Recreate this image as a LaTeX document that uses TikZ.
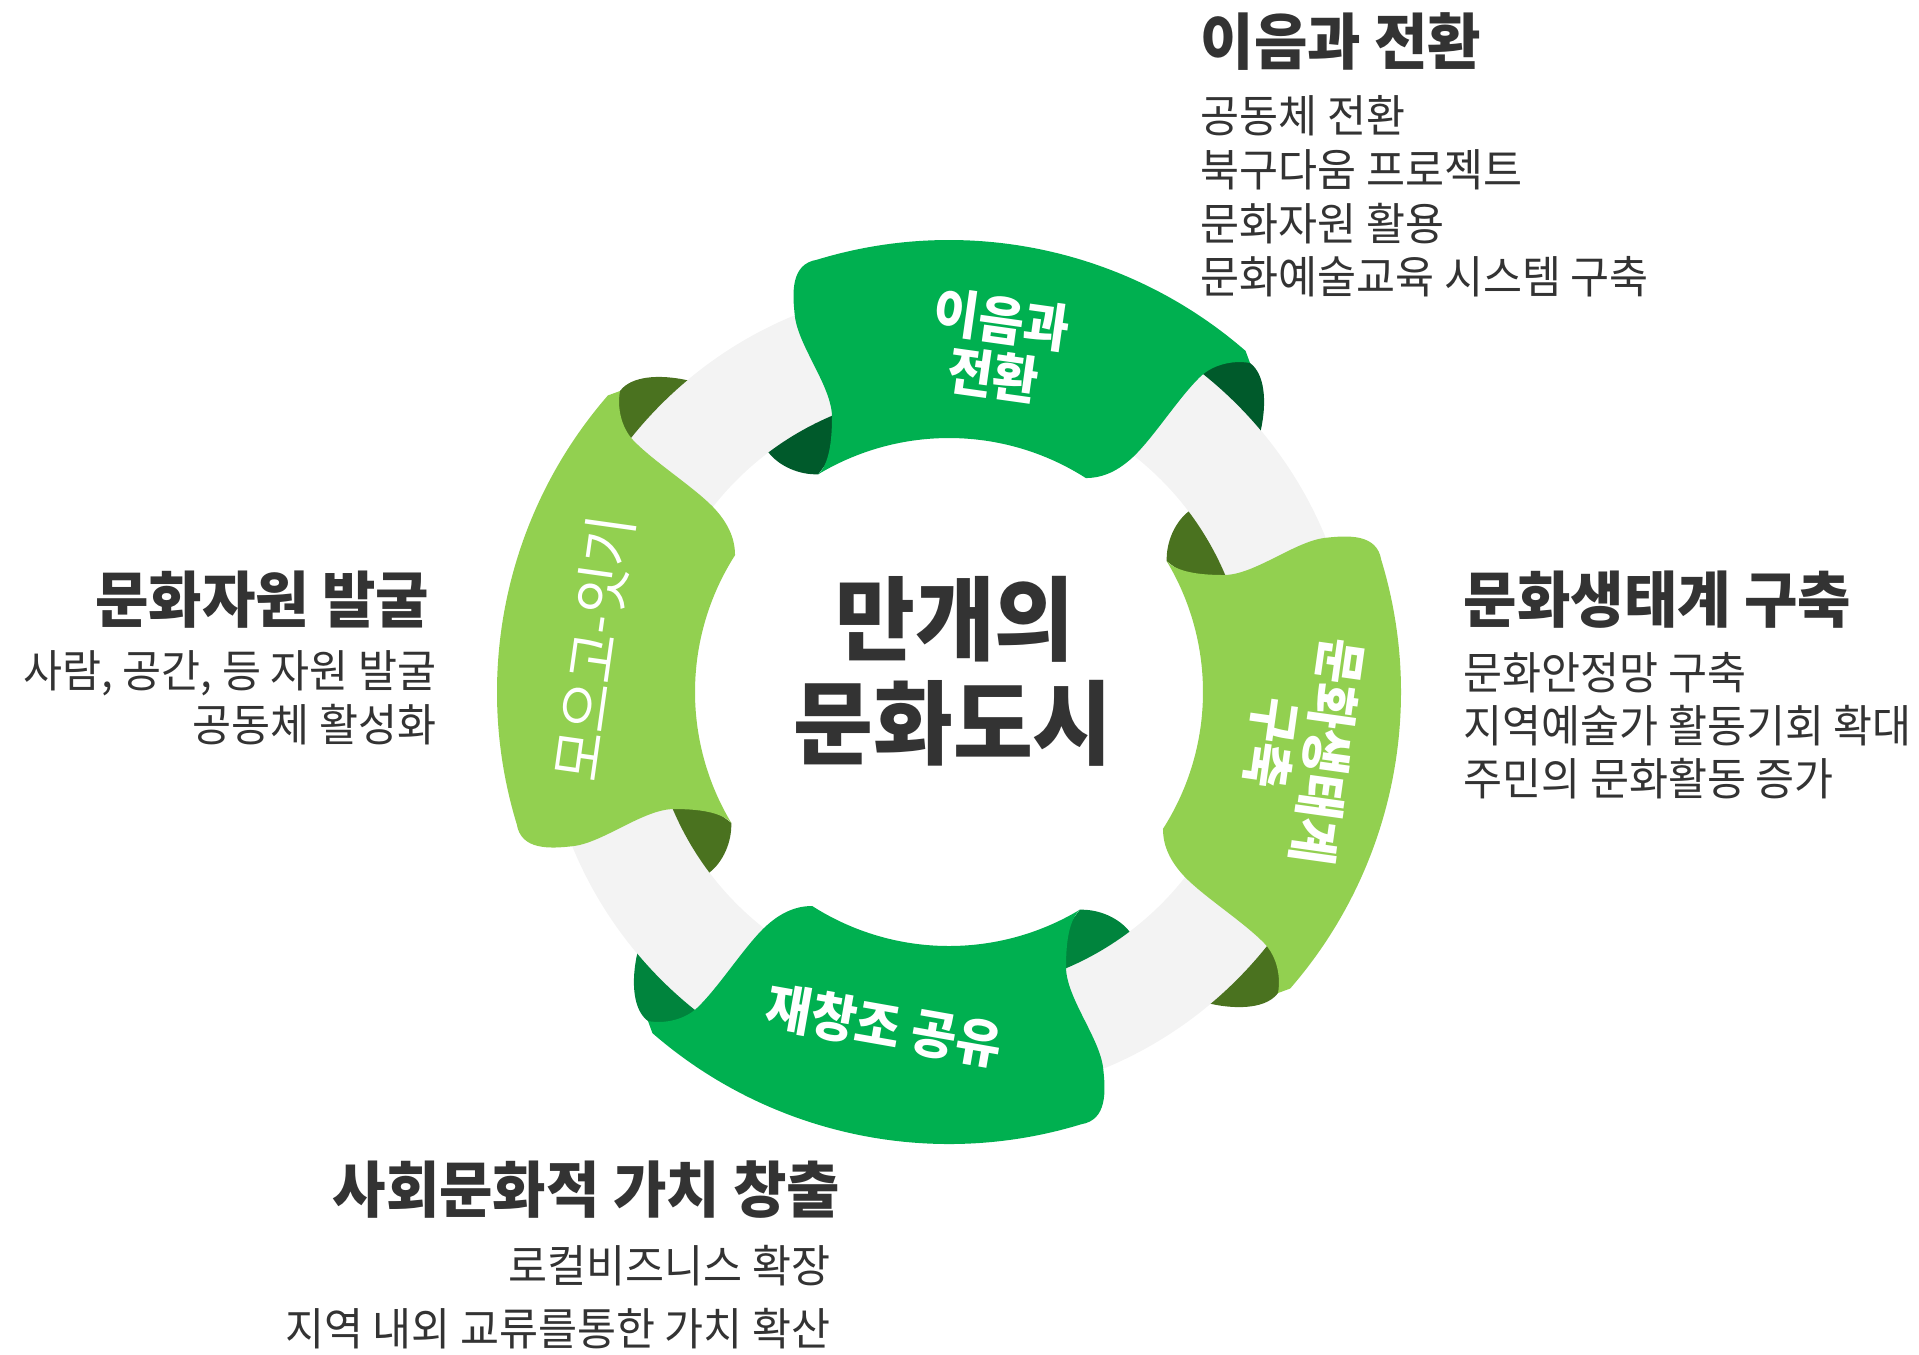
\documentclass[tikz,border=0pt]{standalone}
\usepackage{fontspec}
\setmainfont{Noto Sans CJK KR}[FakeStretch=0.95]
\definecolor{ringgray}{HTML}{F3F3F3}
\definecolor{midgreen}{HTML}{00B050}
\definecolor{leafgreen}{HTML}{92D050}
\definecolor{darkfold}{HTML}{005A2B}
\definecolor{midfold}{HTML}{00843D}
\definecolor{olivefold}{HTML}{4A721F}
\definecolor{inkgray}{HTML}{333333}
\tikzset{
  headtxt/.style={inner sep=0pt, text=inkgray, font=\fontsize{17.4pt}{20pt}\selectfont\bfseries},
  bodytxt/.style={inner sep=0pt, text=inkgray, font=\fontsize{12.7pt}{15pt}\selectfont},
  bandtxt/.style={inner sep=0pt, text=white, align=center, font=\fontsize{14.8pt}{16pt}\selectfont\bfseries},
  citytxt/.style={inner sep=0pt, text=inkgray, font=\fontsize{26pt}{30pt}\selectfont\bfseries}
}

\begin{document}
\begin{tikzpicture}[x=0.1mm, y=0.1mm]
  \useasboundingbox (-949,-662) rectangle (970,692);
  \fill[ringgray, even odd rule] (0,0) circle[radius=407] (0,0) circle[radius=300];

  % four ribbons, each a quarter turn of the top one
  \foreach \turn/\band/\fold in {0/midgreen/darkfold, -90/leafgreen/olivefold, -180/midgreen/midfold, -270/leafgreen/olivefold}{
    \begin{scope}[rotate=\turn]
      \fill[\fold] (110:300) arc[start angle=110, end angle=127, radius=300]
        .. controls (-170,226) and (-150,217) .. (121:254) -- (112:275) -- cycle;
      \fill[\fold] (55:407) arc[start angle=55, end angle=40, radius=407]
        .. controls (318,290) and (316,318) .. (301,329) -- (55:440) -- cycle;
      \fill[\band] (121:254) .. controls (-120,228) and (-117,250) .. (-117,275)
        .. controls (-117,305) and (-150,345) .. (-154,375)
        .. controls (-157,400) and (-158,428) .. (107:452)
        arc[start angle=107, end angle=49, radius=452] -- (301,329)
        .. controls (285,332) and (265,328) .. (252,316)
        .. controls (230,295) and (205,255) .. (184,235)
        .. controls (170,222) and (155,214) .. (57.4:254)
        arc[start angle=57.4, end angle=121, radius=254] -- cycle;
    \end{scope}
  }

  \node[bandtxt, rotate=-8] (bandtop) at (82:348) {이음과\\전환};
  \node[bandtxt, rotate=-98] (bandright) at (-9:355) {문화생태계\\구축};
  \node[bandtxt, rotate=-10] (bandbottom) at (259:340) {재창조 공유};
  \node[bandtxt, font=\fontsize{16.2pt}{17pt}\selectfont, rotate=82] (bandleft) at (173:358) {모으고-잇기};

  \node[citytxt] (cityA) at (6,73) {만개의};
  \node[citytxt] (cityB) at (4,-31) {문화도시};

  \node[headtxt, anchor=west] (headTR) at (251,650) {이음과 전환};
  \foreach \txt [count=\k] in {공동체 전환, 북구다움 프로젝트, 문화자원 활용, 문화예술교육 시스템 구축}
    \node[bodytxt, anchor=west] (bodyTR\k) at (251,629.7-53.7*\k) {\txt};

  \node[headtxt, anchor=west] (headR) at (514,92) {문화생태계 구축};
  \foreach \txt [count=\k] in {문화안정망 구축, 지역예술가 활동기회 확대, 주민의 문화활동 증가}
    \node[bodytxt, anchor=west] (bodyR\k) at (514,72-53*\k) {\txt};

  \node[headtxt, anchor=east] (headL) at (-519,92) {문화자원 발굴};
  \foreach \txt [count=\k] in {{사람, 공간, 등 자원 발굴}, 공동체 활성화}
    \node[bodytxt, anchor=east] (bodyL\k) at (-512,70-51.5*\k) {\txt};

  \node[headtxt, anchor=east] (headBL) at (-108,-498) {사회문화적 가치 창출};
  \foreach \txt [count=\k] in {로컬비즈니스 확장, 지역 내외 교류를통한 가치 확산}
    \node[bodytxt, anchor=east] (bodyBL\k) at (-118,-511-63*\k) {\txt};
\end{tikzpicture}
\end{document}
